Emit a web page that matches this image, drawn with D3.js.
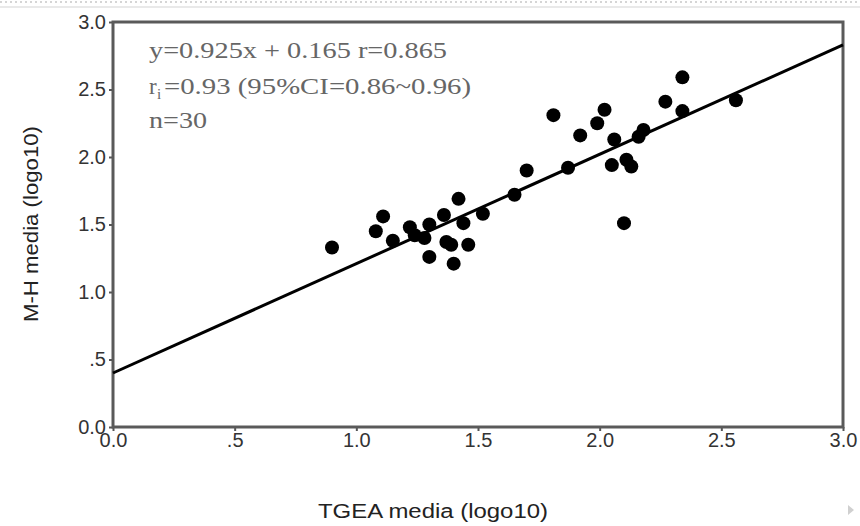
<!DOCTYPE html>
<html>
<head>
<meta charset="utf-8">
<script src="https://cdn.jsdelivr.net/npm/d3@7"></script>
<style>
  html, body { margin: 0; padding: 0; background: #fff; }
  svg { display: block; }
</style>
</head>
<body>
<div id="chart"></div>
<script>
// Dimensions of the page
const width = 860;
const height = 526;

// Scatter values (TGEA vs M-H, log10)
const tgea = [0.90, 1.08, 1.11, 1.15, 1.22, 1.24, 1.28, 1.30, 1.30, 1.36, 1.37, 1.39, 1.40, 1.42, 1.44, 1.46, 1.52, 1.65,
              1.70, 1.87, 1.81, 1.92, 1.99, 2.02, 2.06, 2.05, 2.11, 2.13, 2.16, 2.18, 2.10, 2.27, 2.34, 2.34, 2.56];
const mh   = [1.33, 1.45, 1.56, 1.38, 1.48, 1.42, 1.40, 1.50, 1.26, 1.57, 1.37, 1.35, 1.21, 1.69, 1.51, 1.35, 1.58, 1.72,
              1.90, 1.92, 2.31, 2.16, 2.25, 2.35, 2.13, 1.94, 1.98, 1.93, 2.15, 2.20, 1.51, 2.41, 2.34, 2.59, 2.42];

// Fitted line as drawn (end points)
const fitX = [0, 3];
const fitY = [0.40, 2.83];

// Ticks and labels
const tickValues = [0, 0.5, 1, 1.5, 2, 2.5, 3];
const annotation = ["y=0.925x + 0.165 r=0.865", "=0.93 (95%CI=0.86~0.96)", "n=30"];

const svg = d3.select('#chart')
    .append('svg')
    .attr('width', width)
    .attr('height', height);

// page decoration at the top
svg.append('line')
    .attr('x1', 0).attr('x2', width).attr('y1', 2).attr('y2', 2)
    .attr('stroke', '#c8c8c8').attr('stroke-width', 1.5)
    .attr('stroke-dasharray', '2,3');
svg.append('line')
    .attr('x1', 0).attr('x2', width).attr('y1', 7).attr('y2', 7)
    .attr('stroke', '#e2e2e2').attr('stroke-width', 1.5);
svg.append('path')
    .attr('d', 'M848,505 L854,510 L848,515 Z')
    .attr('fill', '#d0d0d0');

// Scales
const x = d3.scaleLinear().domain([0, 3]).range([113, 843]);
const y = d3.scaleLinear().domain([0, 3]).range([427, 22]);

const fmt = d => d === 0.5 ? '.5' : d.toFixed(1);

// Axes
const xAxis = svg.append('g')
    .attr('transform', `translate(0,${y(0)})`)
    .call(d3.axisBottom(x).tickValues(tickValues).tickFormat(fmt).tickSize(4).tickPadding(2));
const yAxis = svg.append('g')
    .attr('transform', `translate(${x(0)},0)`)
    .call(d3.axisLeft(y).tickValues(tickValues).tickFormat(fmt).tickSize(4).tickPadding(3));

[xAxis, yAxis].forEach(a => {
    a.select('.domain').remove();
    a.selectAll('line').attr('stroke', '#555').attr('stroke-width', 2);
    a.selectAll('text')
        .attr('font-family', 'Liberation Sans, Arial, sans-serif')
        .attr('font-size', 20)
        .attr('fill', '#333');
});

// Frame
svg.append('rect')
    .attr('x', x(0)).attr('y', y(3))
    .attr('width', x(3) - x(0)).attr('height', y(0) - y(3))
    .attr('fill', 'none')
    .attr('stroke', '#5a5a5a')
    .attr('stroke-width', 3);

// Fit line
svg.append('line')
    .attr('x1', x(fitX[0])).attr('y1', y(fitY[0]))
    .attr('x2', x(fitX[1])).attr('y2', y(fitY[1]))
    .attr('stroke', '#000')
    .attr('stroke-width', 3);

// Points
svg.append('g')
    .selectAll('circle')
    .data(tgea.map((d, i) => ({ x: d, y: mh[i] })))
    .join('circle')
    .attr('cx', d => x(d.x))
    .attr('cy', d => y(d.y))
    .attr('r', 7)
    .attr('fill', '#000');

// Annotation text
const noteAttrs = sel => sel
    .attr('font-family', 'Liberation Serif, Times New Roman, serif')
    .attr('font-size', 23)
    .attr('fill', '#666');

svg.append('text').call(noteAttrs)
    .attr('x', 149).attr('y', 58)
    .attr('textLength', 298).attr('lengthAdjust', 'spacingAndGlyphs')
    .text(annotation[0]);

svg.append('text').call(noteAttrs)
    .attr('x', 149).attr('y', 94).text('r');
svg.append('text').call(noteAttrs)
    .attr('x', 157).attr('y', 99).attr('font-size', 15).text('i');
svg.append('text').call(noteAttrs)
    .attr('x', 164).attr('y', 94)
    .attr('textLength', 307).attr('lengthAdjust', 'spacingAndGlyphs')
    .text(annotation[1]);

svg.append('text').call(noteAttrs)
    .attr('x', 149).attr('y', 128)
    .attr('textLength', 58).attr('lengthAdjust', 'spacingAndGlyphs')
    .text(annotation[2]);

// Axis titles
svg.append('text')
    .attr('x', 433).attr('y', 518)
    .attr('text-anchor', 'middle')
    .attr('font-family', 'Liberation Sans, Arial, sans-serif')
    .attr('font-size', 20)
    .attr('textLength', 230).attr('lengthAdjust', 'spacingAndGlyphs')
    .attr('fill', '#222')
    .text('TGEA media (logo10)');

svg.append('text')
    .attr('transform', 'translate(38,224) rotate(-90)')
    .attr('text-anchor', 'middle')
    .attr('font-family', 'Liberation Sans, Arial, sans-serif')
    .attr('font-size', 20)
    .attr('textLength', 196).attr('lengthAdjust', 'spacingAndGlyphs')
    .attr('fill', '#222')
    .text('M-H media (logo10)');
</script>
</body>
</html>
